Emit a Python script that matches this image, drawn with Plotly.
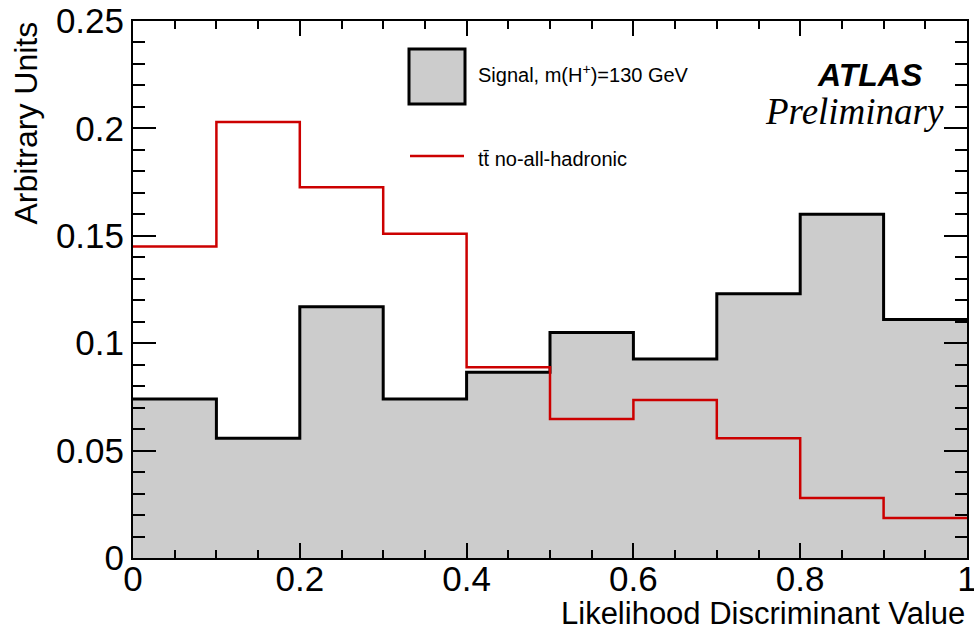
import plotly.graph_objects as go

# ---- data ----
bin_edges = [0.0, 0.1, 0.2, 0.3, 0.4, 0.5, 0.6, 0.7, 0.8, 0.9, 1.0]
signal = [0.074, 0.0558, 0.117, 0.074, 0.0865, 0.105, 0.0926, 0.123, 0.160, 0.111]
ttbar = [0.145, 0.203, 0.1726, 0.151, 0.0888, 0.0647, 0.0735, 0.0558, 0.0279, 0.0186]
x_ticks = [0, 0.2, 0.4, 0.6, 0.8, 1.0]
x_tick_text = ["0", "0.2", "0.4", "0.6", "0.8", "1"]
y_ticks = [0, 0.05, 0.1, 0.15, 0.2, 0.25]

FONT = "Liberation Sans, Arial, Helvetica, sans-serif"

fig = go.Figure()
fig.add_trace(go.Scatter(
    x=bin_edges, y=signal + [signal[-1]], mode="lines",
    line=dict(shape="hv", color="black", width=3),
    fill="tozeroy", fillcolor="#cccccc", showlegend=False, hoverinfo="skip"))
fig.add_trace(go.Scatter(
    x=bin_edges, y=ttbar + [ttbar[-1]], mode="lines",
    line=dict(shape="hv", color="#cc0000", width=2.5),
    showlegend=False, hoverinfo="skip"))

W, H = 974, 632
L, R, T, B = 133, 7, 21, 74
pw, ph = W - L - R, H - T - B

def px(x):
    return (x - L) / pw

def py(y):
    return (H - B - y) / ph

axis_common = dict(showline=True, linecolor="black", linewidth=2, mirror="allticks",
                   ticks="inside", tickcolor="black", showgrid=False, zeroline=False,
                   ticklabeloverflow="allow", automargin=False,
                   tickfont=dict(family=FONT, size=35, color="black"))

fig.update_xaxes(range=[0, 1], tickvals=x_ticks, ticktext=x_tick_text, ticklen=15, tickwidth=1.5,
                 ticklabelstandoff=-11,
                 minor=dict(ticks="inside", dtick=0.05, ticklen=8, tickcolor="black", tickwidth=1.5),
                 **axis_common)
fig.update_yaxes(range=[0, 0.25], tickvals=y_ticks, ticklen=23, tickwidth=1.5,
                 minor=dict(ticks="inside", dtick=0.01, ticklen=12, tickcolor="black", tickwidth=1.5),
                 **axis_common)

shapes = [
    dict(type="rect", xref="paper", yref="paper", x0=px(409), x1=px(465), y0=py(104), y1=py(49),
         fillcolor="#cccccc", line=dict(color="black", width=3)),
    dict(type="line", xref="paper", yref="paper", x0=px(410), x1=px(464), y0=py(156), y1=py(156),
         line=dict(color="#cc0000", width=2.5)),
]

annotations = [
    dict(text="Signal, m(H<sup>+</sup>)=130 GeV", xref="paper", yref="paper", x=px(476), y=py(74),
         xanchor="left", yanchor="middle", showarrow=False, font=dict(family=FONT, size=20, color="black")),
    dict(text="tt\u0304 no-all-hadronic", xref="paper", yref="paper", x=px(476), y=py(159),
         xanchor="left", yanchor="middle", showarrow=False, font=dict(family=FONT, size=20, color="black")),
    dict(text="<b><i>ATLAS</i></b>", xref="paper", yref="paper", x=px(925), y=py(75),
         xanchor="right", yanchor="middle", showarrow=False, font=dict(family=FONT, size=32, color="black")),
    dict(text="<i>Preliminary</i>", xref="paper", yref="paper", x=px(946), y=py(111),
         xanchor="right", yanchor="middle", showarrow=False,
         font=dict(family="Liberation Serif, Times New Roman, serif", size=37, color="black")),
    dict(text="Likelihood Discriminant Value", xref="paper", yref="paper", x=1.0, y=py(613),
         xanchor="right", yanchor="middle", showarrow=False, font=dict(family=FONT, size=31, color="black")),
    dict(text="Arbitrary Units", xref="paper", yref="paper", x=px(25), y=py(20), textangle=-90,
         xanchor="center", yanchor="top", showarrow=False, font=dict(family=FONT, size=32, color="black")),
]

fig.update_layout(width=W, height=H, margin=dict(l=L, r=R, t=T, b=B),
                  paper_bgcolor="white", plot_bgcolor="white",
                  shapes=shapes, annotations=annotations, showlegend=False)

fig.write_html("out.html")
